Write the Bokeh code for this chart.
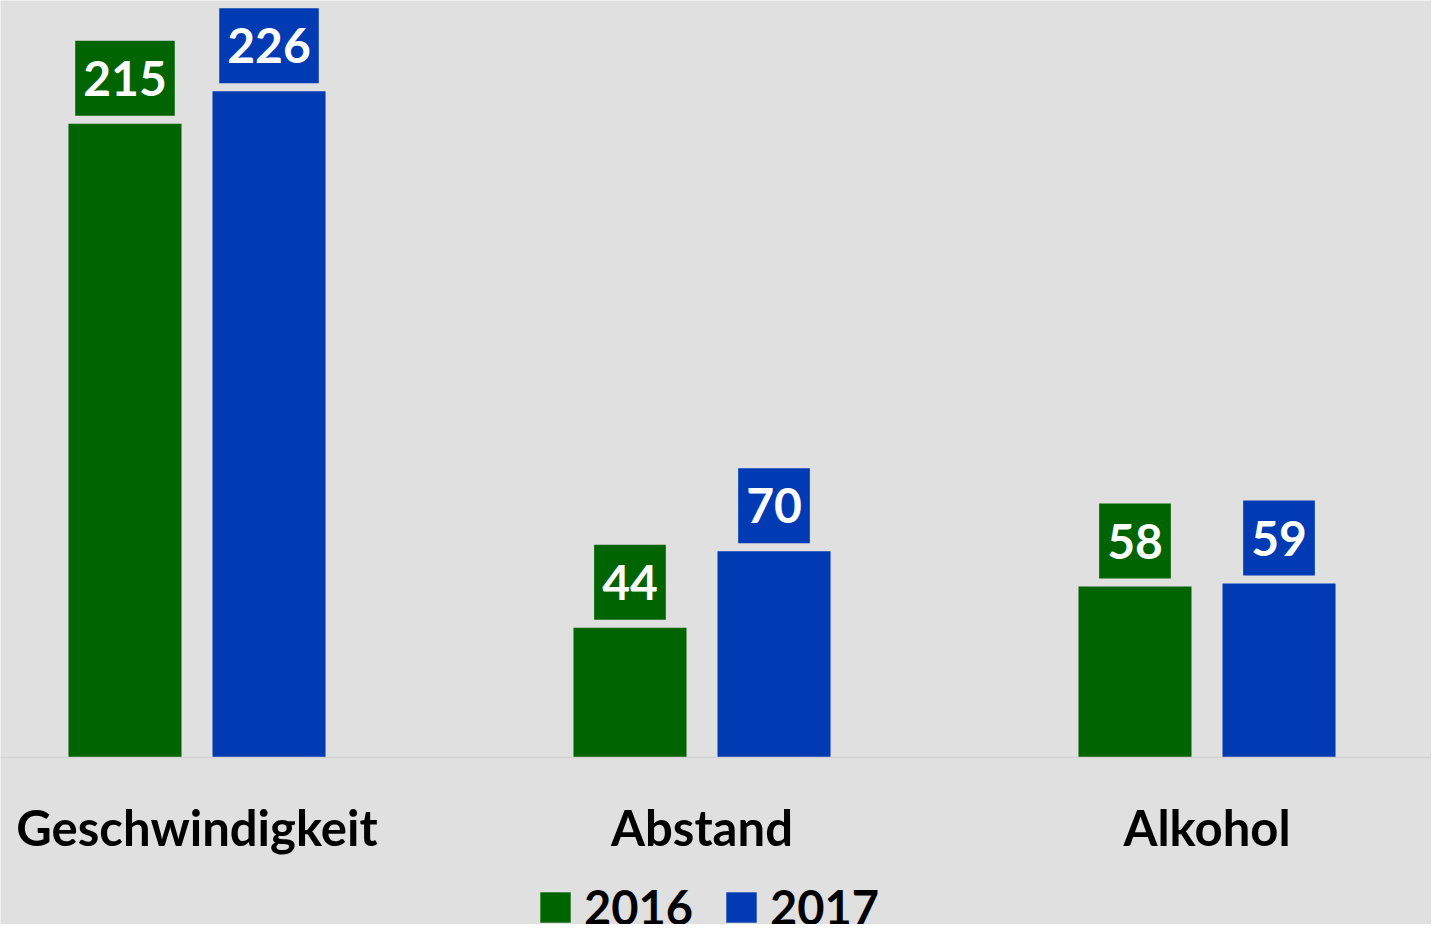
from bokeh.plotting import figure
from bokeh.models import (ColumnDataSource, Legend, LegendItem, Range1d, Span)
from bokeh.core.properties import value
from bokeh.embed import file_html
from bokeh.resources import INLINE

categories = ["Geschwindigkeit", "Abstand", "Alkohol"]
years = ["2016", "2017"]
values_2016 = [215, 44, 58]
values_2017 = [226, 70, 59]

GREEN = "#006400"
BLUE = "#003BB4"
BG = "#E0E0E0"

xs = list(range(len(categories)))
off = 0.1426
bw = 0.2238

src16 = ColumnDataSource(dict(x=[i - off for i in xs], top=values_2016,
                              lab=[str(v) for v in values_2016]))
src17 = ColumnDataSource(dict(x=[i + off for i in xs], top=values_2017,
                              lab=[str(v) for v in values_2017]))
src_cat = ColumnDataSource(dict(x=xs, y=[0] * len(xs), name=categories))

p = figure(width=1431, height=924, output_backend="svg", toolbar_location=None,
           x_range=Range1d(-0.38911, 2.44455), y_range=Range1d(-56.65, 256.8),
           x_axis_location=None, y_axis_location=None,
           min_border=0,
           background_fill_color=BG, border_fill_color=BG, outline_line_color=None)
p.grid.visible = False

p.add_layout(Span(location=0, dimension="width", line_color="#D2D2D2", line_width=1.5))

r16 = p.vbar(x="x", top="top", bottom=0, width=bw, source=src16, fill_color=GREEN, line_color=None)
r17 = p.vbar(x="x", top="top", bottom=0, width=bw, source=src17, fill_color=BLUE, line_color=None)

for src, col in ((src16, GREEN), (src17, BLUE)):
    p.text(x="x", y="top", text="lab", source=src, anchor="bottom_center",
           y_offset=-8, padding=dict(left=8, right=8, top=20, bottom=20),
           background_fill_color=col,
           text_color="white", text_font=value("Lato"), text_font_style="bold",
           text_font_size="48px")

# category labels under the baseline
p.text(x="x", y="y", text="name", source=src_cat, anchor="top_center",
       y_offset=40, text_color="black", text_font=value("Lato"),
       text_font_style="bold", text_font_size="49px")

legend = Legend(items=[LegendItem(label=years[0], renderers=[r16]),
                       LegendItem(label=years[1], renderers=[r17])],
                orientation="horizontal", location=(536, -11),
                background_fill_alpha=0, border_line_color=None,
                padding=0, margin=0, spacing=29, label_standoff=10,
                glyph_width=38, glyph_height=38,
                label_text_font="Lato", label_text_font_style="bold",
                label_text_font_size="47px", label_text_color="black")
p.add_layout(legend)

open("out.html", "w").write(file_html(p, INLINE))
